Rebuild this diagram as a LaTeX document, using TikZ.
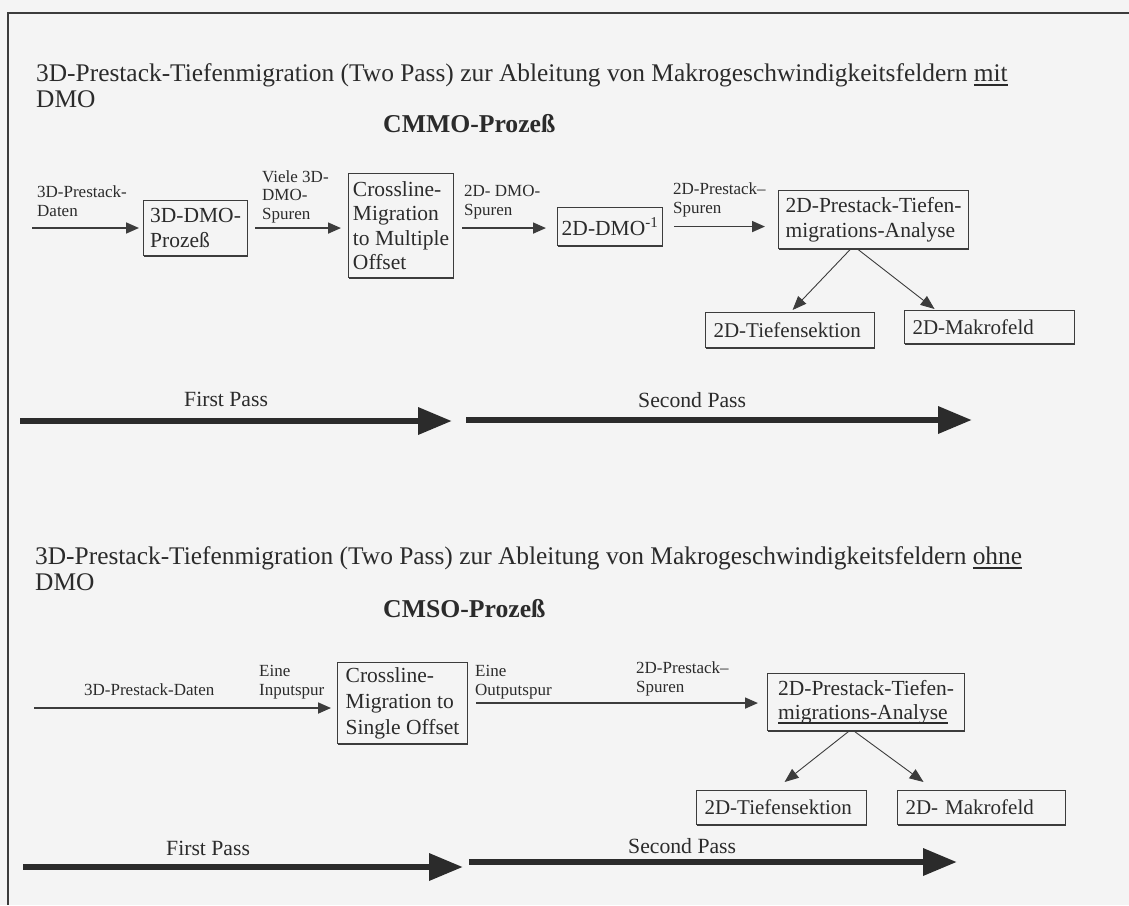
\documentclass[tikz,border=0pt]{standalone}
\usepackage{fontspec}
\setmainfont{Liberation Serif}
\usetikzlibrary{arrows.meta,shadows}
\definecolor{bg}{HTML}{F4F4F4}
\definecolor{ink}{HTML}{2B2B2B}
\definecolor{linec}{HTML}{3C3C3C}
\newcommand\myul[1]{\setbox0\hbox{#1}\rlap{\color{ink}\rule[-4.5pt]{\wd0}{1.6pt}}\box0}
\begin{document}
\begin{tikzpicture}[x=1pt,y=-1pt,
  ttl/.style={anchor=base west, inner sep=0pt, text=ink, font=\fontsize{25.4}{26}\selectfont},
  hd/.style={anchor=base west, inner sep=0pt, text=ink, font=\fontsize{25.7}{27}\selectfont\bfseries},
  lbl/.style={anchor=base west, inner sep=0pt, text=ink, align=left, font=\fontsize{17}{18.5}\selectfont},
  pass/.style={anchor=base west, inner sep=0pt, text=ink, font=\fontsize{21.7}{24}\selectfont},
  box/.style={draw=linec, line width=1.1pt, fill=bg, text=ink, align=left, inner sep=4pt, anchor=north west,
    font=\fontsize{21.5}{24.5}\selectfont,
    drop shadow={shadow xshift=0pt, shadow yshift=-1.8pt, fill=linec, opacity=1}},
  boxone/.style={box, inner xsep=8pt, text width=#1, font=\fontsize{21}{24}\selectfont},
  arr/.style={draw=linec, line width=1.7pt, -{Triangle[length=13pt,width=11pt]}},
  thinarr/.style={draw=linec, line width=0.9pt, -{Triangle[length=14pt,width=11pt]}},
  big/.style={draw=ink, line width=6.5pt, -{Triangle[length=34pt,width=26pt]}}
]
\useasboundingbox (0,0) rectangle (1129,905);
\fill[bg] (0,0) rectangle (1129,905);
\draw[linec, line width=1.3pt] (7,13) -- (1129,13);
\draw[linec, line width=1.3pt] (8,13) -- (8,905);

% ---------- top section ----------
\node[ttl] (t1) at (36,81) {3D-Prestack-Tiefenmigration (Two Pass) zur Ableitung von Makrogeschwindigkeitsfeldern \myul{mit}};
\node[ttl] (t1b) at (36,107) {DMO};
\node[hd] (h1) at (383,132) {CMMO-Prozeß};

\node[lbl] (l1) at (37,216) {3D-Prestack-\\Daten};
\node[lbl] (l2) at (262,219) {Viele 3D-\\DMO-\\Spuren};
\node[lbl] (l3) at (464,215) {2D- DMO-\\Spuren};
\node[lbl] (l4) at (673,213) {2D-Prestack–\\Spuren};

\node[box, minimum width=104pt, minimum height=55pt] (A) at (143,200) {3D-DMO-\\Prozeß};
\node[box, minimum width=105pt, minimum height=104pt] (B) at (348,173) {Crossline-\\Migration\\to Multiple\\Offset};
\node[box, minimum width=105pt, minimum height=38pt] (C) at (557,207) {2D-DMO\textsuperscript{-1}};
\node[box, minimum width=190pt, minimum height=58pt] (D) at (778,190) {2D-Prestack-Tiefen-\\migrations-Analyse};
\node[boxone=153pt, minimum height=35pt] (E) at (705,312) {2D-Tiefensektion};
\node[boxone=154pt, minimum height=33pt] (F) at (904,310) {2D-Makrofeld};

\coordinate (in1) at (32,228);
\draw[arr, shorten >=4pt] (in1) -- (in1 -| A.west);
\draw[arr, shorten <=7pt, shorten >=7pt] (A.east) -- (A.east -| B.west);
\draw[arr, shorten <=8pt, shorten >=11pt] (B.east |- A.east) -- (A.east -| C.west);
\draw[arr, shorten <=11pt, shorten >=13pt] (C.east) -- (C.east -| D.west);
\draw[thinarr] ([xshift=-23pt]D.south) -- ([xshift=2.5pt,yshift=2pt]E.north);
\draw[thinarr] ([xshift=-16pt]D.south) -- ([xshift=-55pt,yshift=1pt]F.north);

\coordinate (p1a) at (20,421);
\coordinate (p1b) at (452,421);
\coordinate (p2a) at (466,420);
\coordinate (p2b) at (972,420);
\draw[big] (p1a) -- (p1b);
\draw[big] (p2a) -- (p2b);
\node[pass] (fp1) at (184,406) {First Pass};
\node[pass] (sp1) at (638,407) {Second Pass};

% ---------- bottom section ----------
\node[ttl] (t2) at (35,564) {3D-Prestack-Tiefenmigration (Two Pass) zur Ableitung von Makrogeschwindigkeitsfeldern \myul{ohne}};
\node[ttl] (t2b) at (35,590) {DMO};
\node[hd] (h2) at (383,617) {CMSO-Prozeß};

\node[lbl] (l5) at (84,695) {3D-Prestack-Daten};
\node[lbl] (l6) at (259,695) {Eine\\Inputspur};
\node[lbl] (l7) at (475,695) {Eine\\Outputspur};
\node[lbl] (l8) at (636,692) {2D-Prestack–\\Spuren};

\node[box, minimum width=130pt, minimum height=81pt, font=\fontsize{21.5}{26}\selectfont] (G) at (337,662) {Crossline-\\Migration to\\Single Offset};
\node[box, minimum width=197pt, minimum height=57pt] (H) at (767,673) {2D-Prestack-Tiefen-\\\myul{migrations-Analyse}};
\node[boxone=154pt, minimum height=34pt] (I) at (696,790) {2D-Tiefensektion};
\node[boxone=152pt, minimum height=34pt] (J) at (897,790) {2D- Makrofeld};

\coordinate (in2) at (34,708);
\draw[arr, shorten >=6pt] (in2) -- (in2 -| G.west);
\draw[arr, shorten <=8pt, shorten >=9pt] (G.east) -- (G.east -| H.west);
\draw[thinarr] ([xshift=-17pt]H.south) -- ([xshift=3pt,yshift=8pt]I.north);
\draw[thinarr] ([xshift=-12pt]H.south) -- ([xshift=-58pt,yshift=8pt]J.north);

\coordinate (p3a) at (23,867);
\coordinate (p3b) at (463,867);
\coordinate (p4a) at (469,862);
\coordinate (p4b) at (957,862);
\draw[big] (p3a) -- (p3b);
\draw[big] (p4a) -- (p4b);
\node[pass] (fp2) at (166,855) {First Pass};
\node[pass] (sp2) at (628,853) {Second Pass};
\end{tikzpicture}
\end{document}
